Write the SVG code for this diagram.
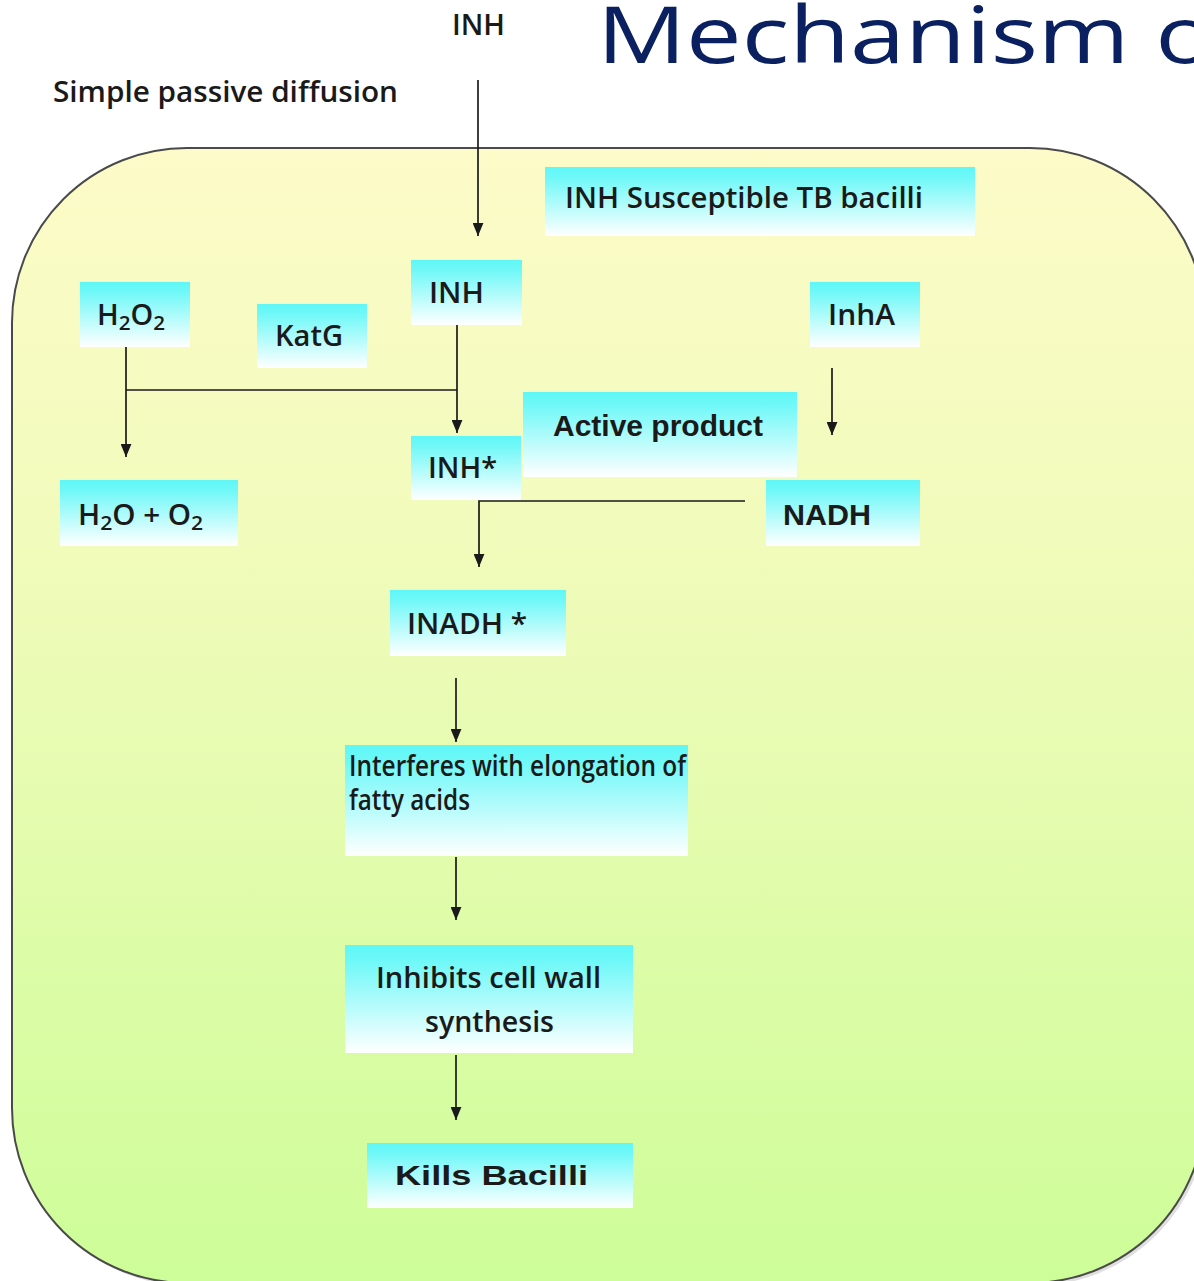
<svg xmlns="http://www.w3.org/2000/svg" width="1194" height="1281" viewBox="0 0 1194 1281">
<defs>
<linearGradient id="bg" x1="0" y1="0" x2="0" y2="1">
<stop offset="0" stop-color="#fdfbc9"/>
<stop offset="0.35" stop-color="#f1fbbb"/>
<stop offset="1" stop-color="#cdfd98"/>
</linearGradient>
<linearGradient id="box" x1="0" y1="0" x2="0" y2="1">
<stop offset="0" stop-color="#5ff7f7"/>
<stop offset="0.15" stop-color="#6ff8f8"/>
<stop offset="1" stop-color="#ffffff"/>
</linearGradient>
<marker id="arr" viewBox="0 0 12 10" refX="12" refY="5" markerWidth="13" markerHeight="11" markerUnits="userSpaceOnUse" orient="auto">
<path d="M0,0 L12,5 L0,10 z" fill="#1a1a1a"/>
</marker>
</defs>
<style>
.lbl{font-family:"Open Sans","Liberation Sans",sans-serif;font-weight:600;fill:#1a1a1a;font-size:28px}
.bx{fill:url(#box)}
.ln{stroke:#1a1a1a;stroke-width:1.7;fill:none}
.ar{stroke:#1a1a1a;stroke-width:1.7;fill:none;marker-end:url(#arr)}
.bold{font-family:"Liberation Sans",Arial,sans-serif;font-weight:700;fill:#1a1a1a}
</style>
<rect width="1194" height="1281" fill="#ffffff"/>
<rect x="15" y="151" width="1193" height="1135" rx="175" ry="175" fill="#c9c9c9" opacity="0.6"/>
<rect id="cell" x="12" y="148" width="1193" height="1135" rx="175" ry="175" fill="url(#bg)" stroke="#4a4a4a" stroke-width="2"/>

<text id="title" transform="translate(597,63) scale(1.27,1)" font-family="'Open Sans','Liberation Sans',sans-serif" font-weight="500" font-size="78" fill="#0a2060">Mechanism of</text>

<g id="inh-top"><text class="lbl" x="452" y="35" font-size="26" textLength="53" lengthAdjust="spacingAndGlyphs">INH</text></g>
<g id="diffusion"><text class="lbl" x="53" y="102" font-size="26" textLength="345" lengthAdjust="spacingAndGlyphs">Simple passive diffusion</text></g>

<g id="n-susceptible"><rect class="bx" x="545" y="167" width="430" height="69"/><text class="lbl" x="565" y="208" textLength="358" lengthAdjust="spacingAndGlyphs">INH Susceptible TB bacilli</text></g>
<g id="n-inh"><rect class="bx" x="411" y="260" width="111" height="65"/><text class="lbl" x="429" y="303" textLength="55" lengthAdjust="spacingAndGlyphs">INH</text></g>
<g id="n-h2o2"><rect class="bx" x="80" y="282" width="110" height="65"/><text class="lbl" x="97" y="325" textLength="68" lengthAdjust="spacingAndGlyphs">H<tspan font-size="20" dy="5">2</tspan><tspan dy="-5">O</tspan><tspan font-size="20" dy="5">2</tspan></text></g>
<g id="n-katg"><rect class="bx" x="257" y="304" width="110" height="64"/><text class="lbl" x="275" y="346" textLength="68" lengthAdjust="spacingAndGlyphs">KatG</text></g>
<g id="n-inha"><rect class="bx" x="810" y="282" width="110" height="65"/><text class="lbl" x="828" y="325" textLength="67" lengthAdjust="spacingAndGlyphs">InhA</text></g>
<g id="n-active"><rect class="bx" x="523" y="392" width="274" height="85"/><text class="bold" x="553" y="436" font-size="30" textLength="210" lengthAdjust="spacingAndGlyphs">Active product</text></g>
<g id="n-inhstar"><rect class="bx" x="411" y="436" width="110" height="64"/><text class="lbl" x="428" y="478" textLength="69" lengthAdjust="spacingAndGlyphs">INH*</text></g>
<g id="n-h2o"><rect class="bx" x="60" y="480" width="178" height="66"/><text class="lbl" x="78" y="525" textLength="125" lengthAdjust="spacingAndGlyphs">H<tspan font-size="20" dy="5">2</tspan><tspan dy="-5">O + O</tspan><tspan font-size="20" dy="5">2</tspan></text></g>
<g id="n-nadh"><rect class="bx" x="766" y="480" width="154" height="66"/><text class="bold" x="783" y="525" font-size="29" textLength="88" lengthAdjust="spacingAndGlyphs">NADH</text></g>
<g id="n-inadh"><rect class="bx" x="390" y="590" width="176" height="66"/><text class="lbl" x="407" y="634" textLength="120" lengthAdjust="spacingAndGlyphs">INADH *</text></g>
<g id="n-interferes"><rect class="bx" x="345" y="745" width="343" height="111"/><text class="lbl" x="349" y="776" font-size="21" font-weight="700" textLength="337" lengthAdjust="spacingAndGlyphs">Interferes with elongation of</text><text class="lbl" x="349" y="810" font-size="21" font-weight="700" textLength="121" lengthAdjust="spacingAndGlyphs">fatty acids</text></g>
<g id="n-inhibits"><rect class="bx" x="345" y="945" width="288" height="108"/><text class="lbl" x="376" y="988" font-size="27" textLength="225" lengthAdjust="spacingAndGlyphs">Inhibits cell wall</text><text class="lbl" x="425" y="1032" font-size="27" textLength="129" lengthAdjust="spacingAndGlyphs">synthesis</text></g>
<g id="n-kills"><rect class="bx" x="367" y="1143" width="266" height="65"/><text class="bold" x="395" y="1185" font-size="28" textLength="193" lengthAdjust="spacingAndGlyphs">Kills Bacilli</text></g>

<g id="connectors">
<path class="ar" d="M478,80 V236"/>
<path class="ar" d="M126,347 V457"/>
<path class="ln" d="M126,390 H457"/>
<path class="ar" d="M457,325 V433"/>
<path class="ar" d="M832,368 V435"/>
<path class="ar" d="M745,501 H479 V567"/>
<path class="ar" d="M456,678 V742"/>
<path class="ar" d="M456,857 V920"/>
<path class="ar" d="M456,1055 V1120"/>
</g>
</svg>
